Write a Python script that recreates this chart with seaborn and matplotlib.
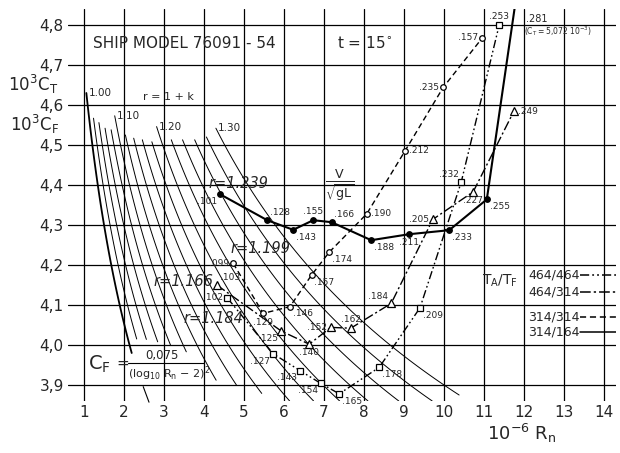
import numpy as np
import pandas as pd
import matplotlib
matplotlib.use("Agg")
import matplotlib.pyplot as plt
import seaborn as sns

# r = 1 + k lines:  10^3 C_T = r * 10^3 C_F(Rn),  C_F = 0.075 / (log10 Rn - 2)^2
r_values = [1.00, 1.02, 1.04, 1.06, 1.08, 1.10, 1.12, 1.14, 1.16,
            1.18, 1.20, 1.22, 1.24, 1.26, 1.28, 1.30]
r_start_ct = [4.630, 4.567, 4.556, 4.542, 4.538, 4.573, 4.525, 4.517, 4.513,
              4.508, 4.546, 4.513, 4.513, 4.513, 4.520, 4.542]
r_end_ct = [3.980, 4.015, 4.014, 4.008, 4.000, 3.983, 3.912, 3.900, 3.879,
            3.860, 3.860, 3.860, 3.860, 3.860, 3.860, 3.875]
r_labelled = ["1.00", "1.10", "1.20", "1.30"]

# T_A/T_F = 314/164, r = 1.239 (last point off scale, C_T = 5.072)
rn_314_164 = [4.40, 5.58, 6.23, 6.73, 7.19, 8.18, 9.13, 10.13, 11.07, 12.10]
ct_314_164 = [4.377, 4.312, 4.288, 4.312, 4.307, 4.262, 4.277, 4.287, 4.364, 5.072]
fn_314_164 = ["101", "128", "143", "155", "166", "188", "211", "233", "255", "281"]

# T_A/T_F = 314/314, r = 1.199
rn_314_314 = [4.73, 5.48, 6.15, 6.69, 7.13, 8.07, 9.03, 9.98, 10.96]
ct_314_314 = [4.204, 4.079, 4.096, 4.175, 4.232, 4.328, 4.486, 4.644, 4.768]
fn_314_314 = ["099", "129", "146", "157", "174", "190", "212", "235", "157"]

# T_A/T_F = 464/314, r = 1.166
rn_464_314 = [4.32, 5.93, 6.63, 7.17, 7.67, 8.68, 9.72, 10.73, 11.75]
ct_464_314 = [4.150, 4.035, 4.002, 4.044, 4.042, 4.104, 4.314, 4.383, 4.585]
fn_464_314 = ["103", "125", "140", "152", "162", "184", "205", "227", "249"]

# T_A/T_F = 464/464, r = 1.184
rn_464_464 = [4.58, 5.73, 6.40, 6.92, 7.38, 8.38, 9.40, 10.43, 11.38]
ct_464_464 = [4.118, 3.978, 3.936, 3.904, 3.878, 3.944, 4.093, 4.407, 4.800]
fn_464_464 = ["102", "127", "143", "154", "165", "178", "209", "232", "253"]

legend_labels = ["464/464", "464/314", "314/314", "314/164"]

# where each point label sits relative to its marker
pos_314_164 = ["bl", "ar", "br", "a", "ar", "br", "b", "br", "br", None]
pos_314_314 = ["l", "b", "br", "br", "br", "r", "r", "l", "l"]
pos_464_314 = ["ar", "bl", "b", "l", "a", "al", "l", "b", "r"]
pos_464_464 = ["l", "bl", "bl", "bl", "br", "br", "br", "al", "a"]

place = {
    "r": ("left", "center", 3, 0), "l": ("right", "center", -3, 0),
    "a": ("center", "bottom", 0, 3), "b": ("center", "top", 0, -3),
    "ar": ("left", "bottom", 2, 2), "al": ("right", "bottom", -2, 2),
    "br": ("left", "top", 2, -2), "bl": ("right", "top", -2, -2),
}

ls_464_464 = (0, (6, 2, 1.2, 2, 1.2, 2))
ls_464_314 = (0, (7, 2, 1.5, 2))
ls_314_314 = (0, (4, 2.5))
ls_314_164 = "-"

sns.set_theme(style="white")
plt.rcParams["font.family"] = ["DejaVu Sans"]
plt.rcParams["mathtext.fontset"] = "dejavusans"

fig = plt.figure(figsize=(6.2, 4.53), dpi=100)
ax = fig.add_axes([68 / 620, 52 / 453, 548 / 620, 392 / 453])
ax.set_xlim(0.6, 14.3)
ax.set_ylim(3.86, 4.84)

for s in ax.spines.values():
    s.set_visible(False)

xt = list(range(1, 15))
yt = [3.9, 4.0, 4.1, 4.2, 4.3, 4.4, 4.5, 4.6, 4.7, 4.8]
ax.set_xticks(xt)
ax.set_xticklabels([str(v) for v in xt], fontsize=11)
ax.set_yticks(yt)
ax.set_yticklabels([f"{v:.1f}".replace(".", ",") for v in yt], fontsize=11)
ax.tick_params(length=0, pad=3)
ax.grid(True, color="black", linewidth=0.9)
ax.set_axisbelow(True)

# r = 1 + k family
for r, y0, y1 in zip(r_values, r_start_ct, r_end_ct):
    x0 = 10 ** (2 + np.sqrt(75 * r / y0)) / 1e6
    x1 = 10 ** (2 + np.sqrt(75 * r / y1)) / 1e6
    xs = np.linspace(x0, x1, 60)
    ys = r * 75 / (np.log10(xs * 1e6) - 2) ** 2
    ax.plot(xs, ys, color="black", lw=1.3 if r == 1.0 else 0.7)
    lab = f"{r:.2f}"
    if lab in r_labelled:
        ax.text(x0 + 0.05, y0, lab, fontsize=7.5, ha="left", va="center")

ax.text(3.1, 4.62, "r = 1 + k", fontsize=8, ha="center", va="center")


def draw_series(rn, ct, fn, pos, ls, marker, ms, mfc, lw):
    df = pd.DataFrame({"rn": rn, "ct": ct})
    sns.lineplot(data=df, x="rn", y="ct", ax=ax, sort=False, estimator=None,
                 color="black", linestyle=ls, lw=lw, marker=marker,
                 markersize=ms, markerfacecolor=mfc, markeredgecolor="black",
                 markeredgewidth=0.9, legend=False)
    for x, y, t, p in zip(rn, ct, fn, pos):
        if p is None:
            continue
        ha, va, dx, dy = place[p]
        ax.annotate("." + t, (x, y), xytext=(dx, dy), textcoords="offset points",
                    ha=ha, va=va, fontsize=6.5)


draw_series(rn_464_464, ct_464_464, fn_464_464, pos_464_464, ls_464_464, "s", 4, "white", 1.0)
draw_series(rn_464_314, ct_464_314, fn_464_314, pos_464_314, ls_464_314, "^", 5.5, "white", 1.0)
draw_series(rn_314_314, ct_314_314, fn_314_314, pos_314_314, ls_314_314, "o", 4, "white", 1.0)
draw_series(rn_314_164, ct_314_164, fn_314_164, pos_314_164, ls_314_164, "o", 4, "black", 1.5)
ax.set_xlabel("")
ax.set_ylabel("")

ax.text(12.05, 4.815, ".281", fontsize=7, ha="left", va="center")
ax.text(12.0, 4.785, r"$(\mathrm{C_T} = 5{,}072\ 10^{-3})$", fontsize=5.5,
        ha="left", va="center")

# r labels
rtxt = dict(fontsize=10.5, style="italic", ha="left", va="center")
ax.text(4.1, 4.405, "r=1.239", **rtxt)
ax.text(4.65, 4.242, "r=1.199", **rtxt)
ax.text(2.73, 4.158, "r=1.166", **rtxt)
ax.text(3.48, 4.067, "r=1.184", **rtxt)

ax.text(7.4, 4.40, r"$\frac{\mathrm{V}}{\sqrt{\mathrm{gL}}}$", fontsize=13,
        ha="center", va="center")

ax.text(1.23, 4.755, "SHIP MODEL 76091 - 54", fontsize=11, ha="left", va="center")
ax.text(7.33, 4.755, r"t = 15$^{\circ}$", fontsize=11, ha="left", va="center")

# formula
ax.text(1.1, 3.952, r"$\mathrm{C_F}$", fontsize=14, ha="left", va="center")
ax.text(1.8, 3.955, "=", fontsize=11, ha="left", va="center")
ax.text(2.95, 3.974, "0,075", fontsize=8.5, ha="center", va="center")
ax.plot([2.1, 4.0], [3.956, 3.956], color="black", lw=0.8)
ax.text(3.12, 3.929, r"(log$_{10}$ R$_\mathrm{n}$ $-$ 2)$^2$", fontsize=8,
        ha="center", va="center")
ax.plot([2.48, 2.625], [3.896, 3.857], color="black", lw=0.8, clip_on=False)

# legend block
ax.text(11.4, 4.16, r"$\mathrm{T_A/T_F}$", fontsize=10, ha="center", va="center")
leg_y = [4.175, 4.133, 4.071, 4.033]
leg_ls = [ls_464_464, ls_464_314, ls_314_314, ls_314_164]
for lab, y, ls in zip(legend_labels, leg_y, leg_ls):
    ax.text(12.1, y, lab, fontsize=9, ha="left", va="center")
    ax.plot([13.4, 14.3], [y, y], color="black", linestyle=ls, lw=1.1)

# axis titles
fig.text(8 / 620, 1 - 84 / 453, r"$10^3\mathrm{C_T}$", fontsize=12, ha="left", va="center")
fig.text(10 / 620, 1 - 124 / 453, r"$10^3\mathrm{C_F}$", fontsize=12, ha="left", va="center")
fig.text(487 / 620, 1 - 433 / 453, r"$10^{-6}\ \mathrm{R_n}$", fontsize=13,
         ha="left", va="center")

fig.savefig("out.png", dpi=100, facecolor="white")
